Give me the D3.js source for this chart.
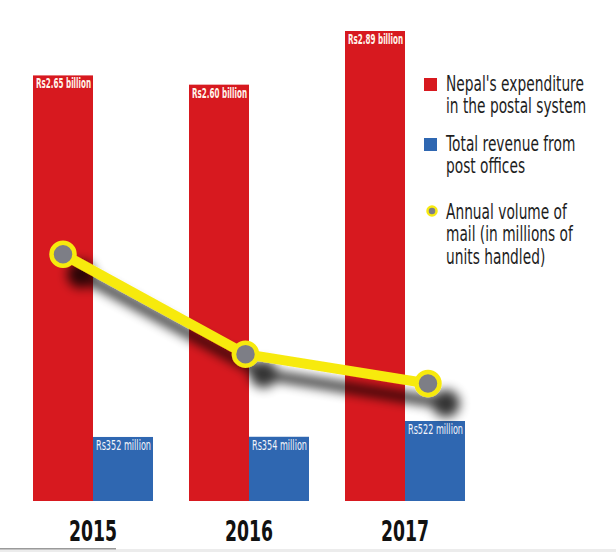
<!DOCTYPE HTML>
<html>
  <head>
    <style>
	body { margin: 0; background: #fff; }
	svg text { font-family: 'DejaVu Sans Condensed', 'DejaVu Sans', sans-serif; }
	</style>
  </head>
  <body>
	<script type="text/javascript" src="https://cdn.jsdelivr.net/npm/d3@7/dist/d3.min.js"></script>
    <script>

		// *** DATA ***

		var years = ['2015', '2016', '2017'];
		var expenditure = [2.65, 2.60, 2.89];       // Rs billion
		var revenue = [352, 354, 522];              // Rs million
		var mailVolume = [6.3, 3.75, 3.0];          // millions of units
		var expLabels = ['Rs2.65 billion', 'Rs2.60 billion', 'Rs2.89 billion'];
		var revLabels = ['Rs352 million', 'Rs354 million', 'Rs522 million'];
		var legendLines = [
			["Nepal's expenditure", 'in the postal system'],
			['Total revenue from', 'post offices'],
			['Annual volume of', 'mail (in millions of', 'units handled)']
		];

		// *** SETUP ***

		var W = 616, H = 552;
		var base = 501;      // bar baseline
		var barW = 60;

		var red = '#d7191f', blue = '#2f67b1', yellow = '#f7ea10', grey = '#7d7e86';

		var svg = d3.select('body').append('svg')
			.attr('width', W)
			.attr('height', H);

		// drop shadow for the line
		var f = svg.append('defs').append('filter')
			.attr('id', 'shadow')
			.attr('x', '-20%').attr('y', '-20%')
			.attr('width', '150%').attr('height', '160%');
		f.append('feGaussianBlur').attr('in', 'SourceAlpha').attr('stdDeviation', 5.5);
		f.append('feOffset').attr('dx', 18).attr('dy', 20).attr('result', 'off');
		f.append('feComponentTransfer').append('feFuncA').attr('type', 'linear').attr('slope', 0.8);
		var fm = f.append('feMerge');
		fm.append('feMergeNode');
		fm.append('feMergeNode').attr('in', 'SourceGraphic');

		// SCALES (infographic is not drawn to a zero baseline)
		var x = d3.scaleBand().domain(years).range([33, 465]).paddingInner(36 / 156);
		var yExp = d3.scaleLinear().domain([0.35, 2.89]).range([base, 31]);
		var yRev = d3.scaleLinear().domain([-330, 522]).range([base, 421]);
		var yMail = d3.scaleLinear().domain([0, 12]).range([base, 31]);
		var xLine = d3.scalePoint().domain(years).range([63, 428]);

		// BARS
		var g = svg.append('g');

		g.selectAll('.exp').data(years)
		.enter()
		.append('rect')
			.attr('x', function(d){ return x(d); })
			.attr('y', function(d, i){ return yExp(expenditure[i]); })
			.attr('width', barW)
			.attr('height', function(d, i){ return base - yExp(expenditure[i]); })
			.style('fill', red);

		g.selectAll('.rev').data(years)
		.enter()
		.append('rect')
			.attr('x', function(d){ return x(d) + barW; })
			.attr('y', function(d, i){ return yRev(revenue[i]); })
			.attr('width', barW)
			.attr('height', function(d, i){ return base - yRev(revenue[i]); })
			.style('fill', blue);

		// bar labels
		g.selectAll('.expLbl').data(years)
		.enter()
		.append('text')
			.attr('x', function(d){ return x(d) + 3; })
			.attr('y', function(d, i){ return yExp(expenditure[i]) + 13; })
			.attr('textLength', 55)
			.attr('lengthAdjust', 'spacingAndGlyphs')
			.style('font-size', '13.5px')
			.style('font-weight', 'bold')
			.style('fill', '#fff4ea')
			.text(function(d, i){ return expLabels[i]; });

		g.selectAll('.revLbl').data(years)
		.enter()
		.append('text')
			.attr('x', function(d){ return x(d) + barW + 3; })
			.attr('y', function(d, i){ return yRev(revenue[i]) + 13; })
			.attr('textLength', 55)
			.attr('lengthAdjust', 'spacingAndGlyphs')
			.style('font-size', '13.5px')
			.style('fill', '#f2f4fa')
			.text(function(d, i){ return revLabels[i]; });

		// year axis
		var xAxis = d3.axisBottom(x).tickSize(0).tickPadding(0);
		var ax = svg.append('g')
			.attr('transform', 'translate(0,' + 541 + ')')
			.call(xAxis);
		ax.select('.domain').remove();
		ax.selectAll('text')
			.attr('dy', 0)
			.attr('textLength', 48)
			.attr('lengthAdjust', 'spacingAndGlyphs')
			.style('font-size', '28px')
			.style('font-weight', 'bold')
			.style('fill', '#111')
			.style('font-family', "'DejaVu Sans Condensed', 'DejaVu Sans', sans-serif");

		// LINE
		var line = d3.line()
			.x(function(d){ return xLine(d); })
			.y(function(d, i){ return yMail(mailVolume[i]); });

		var lg = svg.append('g').attr('filter', 'url(#shadow)');
		lg.append('path')
			.datum(years)
			.attr('d', line)
			.style('fill', 'none')
			.style('stroke', yellow)
			.style('stroke-width', 10)
			.style('stroke-linejoin', 'round');

		lg.selectAll('circle').data(years)
		.enter()
		.append('circle')
			.attr('cx', function(d){ return xLine(d); })
			.attr('cy', function(d, i){ return yMail(mailVolume[i]); })
			.attr('r', 11.5)
			.style('fill', grey)
			.style('stroke', yellow)
			.style('stroke-width', 4.5);

		// LEGEND
		var leg = svg.append('g');
		var legY = [78, 138, 206];
		var legX = 446;

		leg.append('rect').attr('x', 424).attr('y', legY[0]).attr('width', 13).attr('height', 13).style('fill', red);
		leg.append('rect').attr('x', 424).attr('y', legY[1]).attr('width', 13).attr('height', 13).style('fill', blue);
		leg.append('circle').attr('cx', 432).attr('cy', legY[2] + 5).attr('r', 4.5)
			.style('fill', grey).style('stroke', yellow).style('stroke-width', 2.5);

		// text is squeezed horizontally to mimic the condensed face
		var legText = leg.append('g');
		legendLines.forEach(function(lines, k){
			var t = legText.append('text')
				.attr('x', legX)
				.attr('y', legY[k] + 13)
				.style('font-size', '21px')
				.style('font-family', "'DejaVu Sans', sans-serif")
				.style('fill', '#1e1e1e');
			lines.forEach(function(s, j){
				t.append('tspan').attr('x', legX).attr('dy', j ? 22.5 : 0).text(s);
			});
		});
		var firstW = legText.select('tspan').node().getComputedTextLength();
		var k = 138 / firstW;
		legText.attr('transform', 'translate(' + legX + ',0) scale(' + k + ',1) translate(' + (-legX) + ',0)');

		// bottom rule
		svg.append('rect').attr('x', 0).attr('y', 549).attr('width', W).attr('height', 3).style('fill', '#ececec');
		svg.append('rect').attr('x', 0).attr('y', 548).attr('width', 116).attr('height', 1.5).style('fill', '#9a9a9a');

	</script>
  </body>
</html>
